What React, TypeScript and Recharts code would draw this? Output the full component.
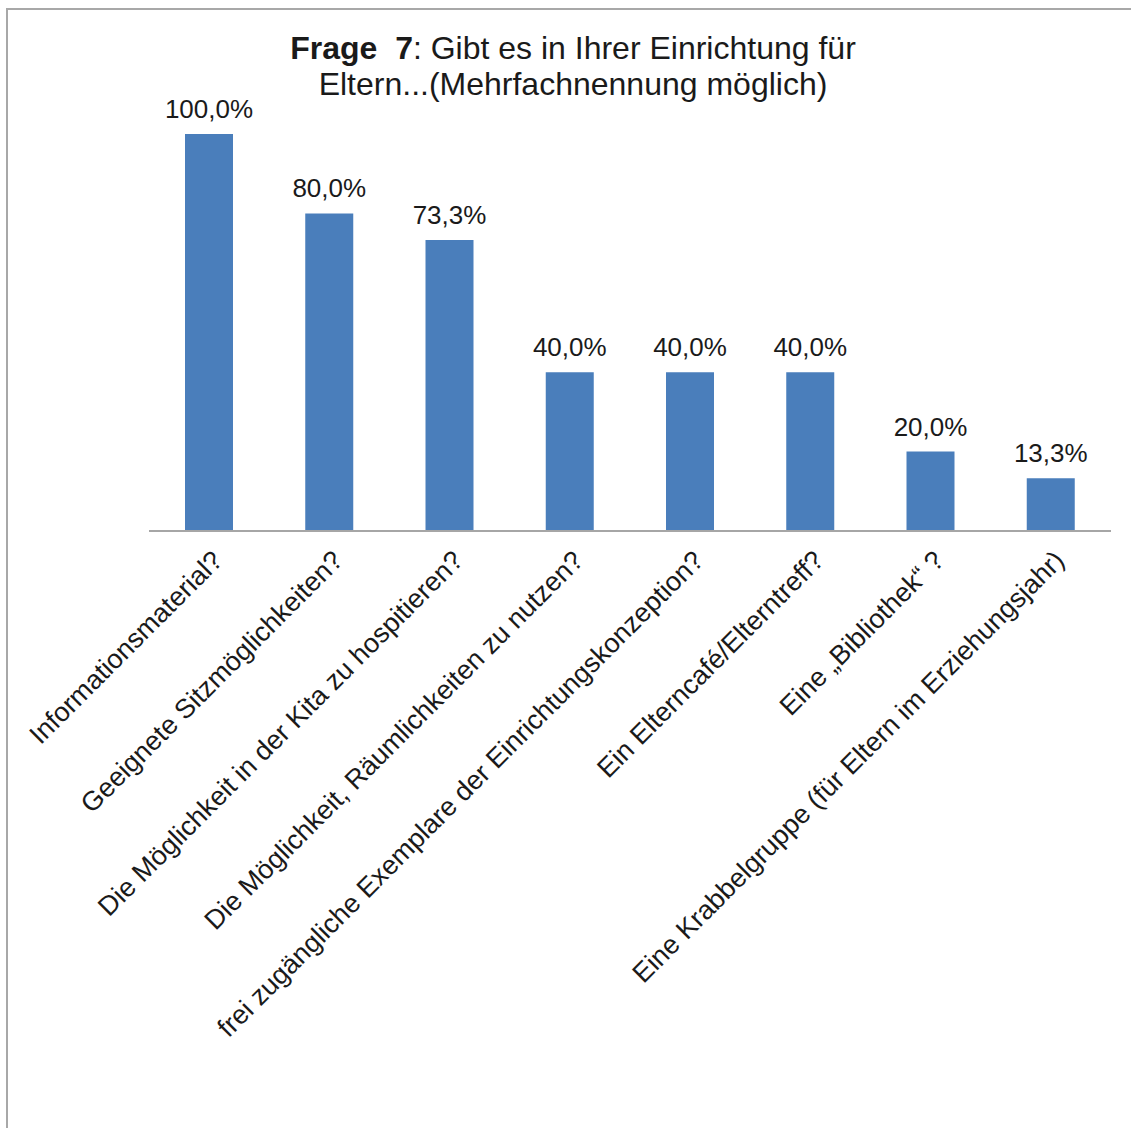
import React from "react";
import { BarChart, Bar, XAxis, YAxis, LabelList } from "recharts";

const categories = [
  "Informationsmaterial?",
  "Geeignete Sitzmöglichkeiten?",
  "Die Möglichkeit in der Kita zu hospitieren?",
  "Die Möglichkeit, Räumlichkeiten zu nutzen?",
  "frei zugängliche Exemplare der Einrichtungskonzeption?",
  "Ein Elterncafé/Elterntreff?",
  "Eine „Bibliothek“ ?",
  "Eine Krabbelgruppe (für Eltern im Erziehungsjahr)",
];
const values = [100.0, 80.0, 73.3, 40.0, 40.0, 40.0, 20.0, 13.3];

const data = categories.map((name, i) => ({ name, value: values[i] }));

const FONT = "'Liberation Sans', Arial, sans-serif";

const Tick = (props: any) => {
  const { x, y, payload } = props;
  return (
    <g transform={`translate(${x + 15},${y + 23})`}>
      <text
        transform="rotate(-45)"
        textAnchor="end"
        fontSize={27}
        fontFamily={FONT}
        fill="#1a1a1a"
      >
        {payload.value}
      </text>
    </g>
  );
};

const ValueLabel = (props: any) => {
  const { x, y, width, value } = props;
  return (
    <text
      x={x + width / 2}
      y={y - 16}
      textAnchor="middle"
      fontSize={26}
      fontFamily={FONT}
      fill="#1a1a1a"
    >
      {value.toFixed(1).replace(".", ",") + "%"}
    </text>
  );
};

export default function App() {
  return (
    <div
      style={{
        position: "absolute",
        left: 0,
        top: 0,
        width: 1131,
        height: 1128,
        overflow: "hidden",
        background: "#fff",
      }}
    >
      <div
        style={{
          position: "absolute",
          left: 6,
          top: 8,
          width: 1160,
          height: 1160,
          border: "2px solid #a8a8a8",
          boxSizing: "border-box",
        }}
      />
      <div
        style={{
          position: "absolute",
          left: 0,
          width: 1146,
          top: 30,
          textAlign: "center",
          fontFamily: FONT,
          fontSize: 32,
          lineHeight: "36px",
          color: "#1a1a1a",
          whiteSpace: "nowrap",
        }}
      >
        <b>Frage&nbsp; 7</b>: Gibt es in Ihrer Einrichtung für
        <br />
        Eltern...(Mehrfachnennung möglich)
      </div>
      <div style={{ position: "absolute", left: 0, top: 0 }}>
        <BarChart
          width={1131}
          height={1128}
          data={data}
          margin={{ top: 134, right: 20, bottom: 0, left: 149 }}
        >
          <YAxis hide domain={[0, 100]} />
          <XAxis
            dataKey="name"
            height={597}
            interval={0}
            tickLine={false}
            axisLine={{ stroke: "#a6a6a6", strokeWidth: 2 }}
            tick={<Tick />}
          />
          <Bar dataKey="value" fill="#4a7ebb" barSize={48} isAnimationActive={false}>
            <LabelList dataKey="value" content={<ValueLabel />} />
          </Bar>
        </BarChart>
      </div>
    </div>
  );
}
